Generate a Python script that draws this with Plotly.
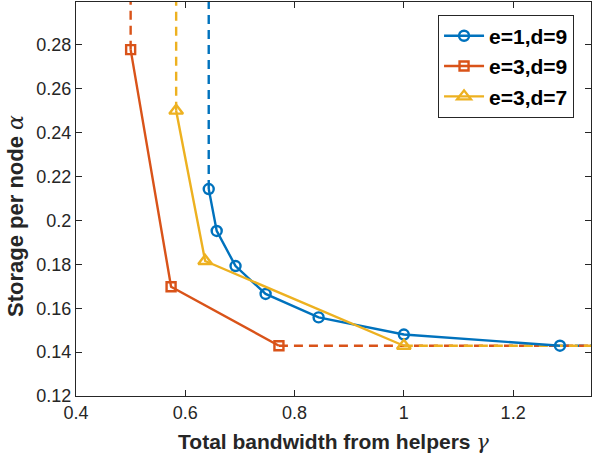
import plotly.graph_objects as go

# ---- data ----
e1d9_x = [0.6429, 0.6575, 0.6920, 0.7470, 0.8440, 1.0000, 1.2857]
e1d9_y = [0.2143, 0.1952, 0.1792, 0.1665, 0.1558, 0.1480, 0.1429]
e3d9_x = [0.5000, 0.5740, 0.7714]
e3d9_y = [0.2778, 0.1698, 0.1429]
e3d7_x = [0.5833, 0.6364, 1.0000]
e3d7_y = [0.2500, 0.1815, 0.1429]

series_names = ["e=1,d=9", "e=3,d=9", "e=3,d=7"]
x_tick_vals = [0.4, 0.6, 0.8, 1.0, 1.2]
x_tick_text = ["0.4", "0.6", "0.8", "1", "1.2"]
y_tick_vals = [0.12, 0.14, 0.16, 0.18, 0.20, 0.22, 0.24, 0.26, 0.28]
y_tick_text = ["0.12", "0.14", "0.16", "0.18", "0.2", "0.22", "0.24", "0.26", "0.28"]

X_RANGE = [0.4, 1.3425]
Y_RANGE = [0.12, 0.2995]

colors = ["#0072BD", "#D95319", "#EDB120"]
symbols = ["circle-open", "square-open", "triangle-up-open"]
msizes = [10, 9, 12]
all_x = [e1d9_x, e3d9_x, e3d7_x]
all_y = [e1d9_y, e3d9_y, e3d7_y]

fig = go.Figure()

# dashed extensions (vertical up to top, horizontal to right)
for xs, ys, c in zip(all_x, all_y, colors):
    fig.add_trace(go.Scatter(x=[xs[0], xs[0]], y=[ys[0], Y_RANGE[1] + 0.01],
                             mode="lines", line=dict(color=c, width=2.4, dash="9px,6px"),
                             showlegend=False, hoverinfo="skip", cliponaxis=True))
for xs, ys, c in zip(all_x, all_y, colors):
    fig.add_trace(go.Scatter(x=[xs[-1], X_RANGE[1] + 0.05], y=[ys[-1], ys[-1]],
                             mode="lines", line=dict(color=c, width=2.4, dash="9px,6px"),
                             showlegend=False, hoverinfo="skip", cliponaxis=True))

for xs, ys, c, s, ms, n in zip(all_x, all_y, colors, symbols, msizes, series_names):
    fig.add_trace(go.Scatter(x=xs, y=ys, mode="lines+markers", name=n,
                             line=dict(color=c, width=2.4),
                             marker=dict(symbol=s, size=ms, color=c, line=dict(color=c, width=2.4))))

axis_common = dict(showline=True, linecolor="#262626", linewidth=1, mirror="ticks",
                   ticks="inside", ticklen=6, tickcolor="#262626", showgrid=False, zeroline=False,
                   tickfont=dict(family="Liberation Sans, Arial", size=18, color="#262626"))

fig.update_xaxes(range=X_RANGE, tickvals=x_tick_vals, ticktext=x_tick_text,
                 title=dict(text="<b>Total bandwidth from helpers</b> <span style='font-family:DejaVu Serif'><i>γ</i></span>",
                            font=dict(family="Liberation Sans, Arial", size=21, color="#262626"), standoff=12),
                 **axis_common)
fig.update_yaxes(range=Y_RANGE, tickvals=y_tick_vals, ticktext=y_tick_text, **axis_common)

fig.add_annotation(text="<b>Storage per node</b> <span style='font-family:DejaVu Serif'><i>α</i></span>",
                   xref="paper", yref="paper", x=-0.1165, y=0.457, textangle=-90,
                   showarrow=False, xanchor="center", yanchor="middle",
                   font=dict(family="Liberation Sans, Arial", size=22, color="#262626"))

fig.update_layout(
    width=593, height=461,
    margin=dict(l=76, r=2, t=2, b=65, autoexpand=False),
    plot_bgcolor="white", paper_bgcolor="white",
    legend=dict(x=0.703, y=0.968, xanchor="left", yanchor="top",
                bgcolor="white", bordercolor="#262626", borderwidth=1,
                font=dict(family="Liberation Sans, Arial", size=21, color="black", weight="bold"),
                itemwidth=40, tracegroupgap=0),
    showlegend=True,
)

fig.write_html("out.html")
